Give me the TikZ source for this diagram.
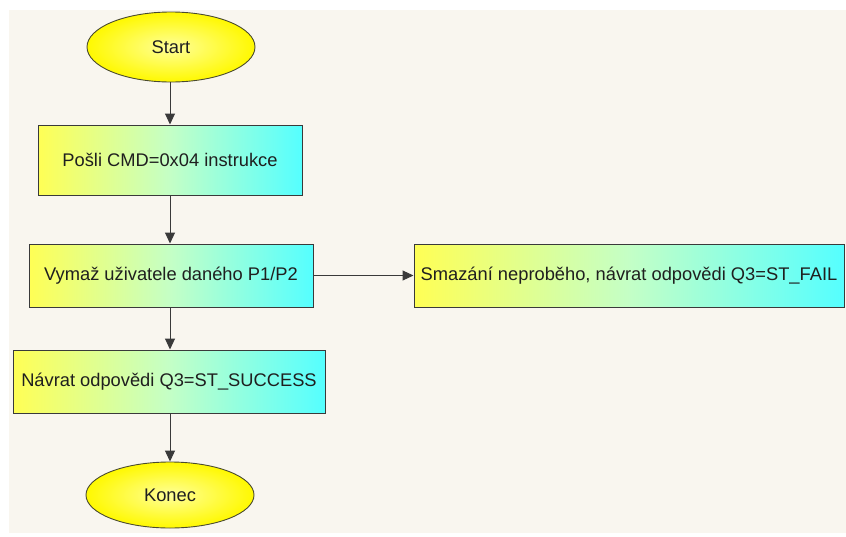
\documentclass[tikz,border=0pt]{standalone}
\usepackage{fontspec}
\setmainfont{Liberation Sans}
\usetikzlibrary{shapes.geometric,arrows.meta}

\definecolor{canvas}{HTML}{F9F6EF}
\definecolor{edge}{HTML}{3A3A3A}
\definecolor{ovaledge}{HTML}{4A4A30}
\definecolor{gyellow}{HTML}{FFFF55}
\definecolor{ggreen}{HTML}{C4FFC6}
\definecolor{gcyan}{HTML}{55FFFF}

\tikzset{
  x=1pt, y=-1pt,
  every node/.style={font=\fontsize{18.3}{21}\selectfont, text=black!88},
  terminal/.style={ellipse, draw=ovaledge, line width=0.9pt,
    inner color=yellow!40!white, outer color=yellow!95!orange,
    minimum width=168pt, minimum height=70pt},
  procbox/.style={rectangle, draw=edge, line width=1pt,
    left color=gyellow, right color=gcyan, middle color=ggreen,
    minimum height=63pt, inner sep=0pt},
  flow/.style={draw=edge, line width=1pt, -{Triangle[length=11pt,width=10pt]}}
}

\begin{document}
\begin{tikzpicture}
  % page and light drawing area
  \fill[white] (0,0) rectangle (846,536);
  \fill[canvas] (9,10) rectangle (846,533);
  \useasboundingbox (0,0) rectangle (846,536);

  % nodes
  \node[terminal] (start) at (171,47) {Start};
  \node[procbox, minimum width=264pt, minimum height=70pt] (send) at (170,160) {Pošli CMD=0x04 instrukce};
  \node[procbox, minimum width=284pt] (erase) at (171,275.5) {Vymaž uživatele daného P1/P2};
  \node[procbox, minimum width=430pt] (fail) at (629,275.5) {Smazání neproběho, návrat odpovědi Q3=ST\_FAIL};
  \node[procbox, minimum width=312pt] (ok) at (169,381.5) {Návrat odpovědi Q3=ST\_SUCCESS};
  \node[terminal, minimum height=66pt] (konec) at (170,495) {Konec};

  % connectors, all on the common vertical axis x = 170
  \coordinate (axis) at (170,0);
  \draw[flow] (axis |- start.south) -- (axis |- send.north);
  \draw[flow] (axis |- send.south) -- (axis |- erase.north);
  \draw[flow] (erase.east) -- (fail.west);
  \draw[flow] (axis |- erase.south) -- (axis |- ok.north);
  \draw[flow] (axis |- ok.south) -- (axis |- konec.north);
\end{tikzpicture}
\end{document}
